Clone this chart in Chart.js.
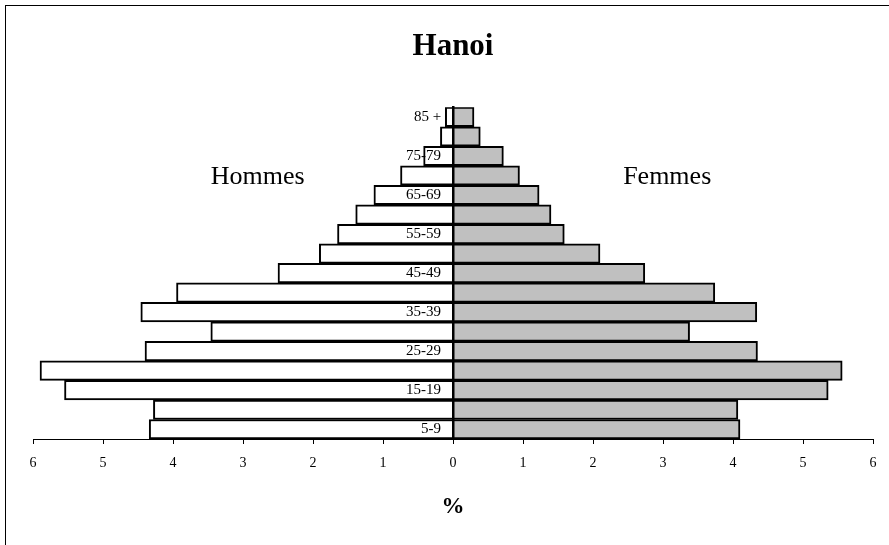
<!DOCTYPE html>
<html>
<head>
<meta charset="utf-8">
<script src="https://cdn.jsdelivr.net/npm/chart.js@4/dist/chart.umd.min.js"></script>
<style>
  html, body { margin: 0; padding: 0; background: #fff; overflow: hidden; }
  #wrap { position: relative; width: 889px; height: 545px; }
  #frame { position: absolute; left: 5px; top: 5px; width: 900px; height: 600px;
           border-left: 1px solid #000; border-top: 1px solid #000; pointer-events: none; }
  canvas { position: absolute; left: 0; top: 0; }
</style>
</head>
<body>
<div id="wrap">
  <canvas id="c" width="889" height="545"></canvas>
  <div id="frame"></div>
</div>
<script>
// Age groups, bottom to top
const ageGroups = ['5-9','10-14','15-19','20-24','25-29','30-34','35-39','40-44','45-49',
                   '50-54','55-59','60-64','65-69','70-74','75-79','80-84','85 +'];
// Labels shown on the axis (every other group)
const ageTickLabels = ['5-9','','15-19','','25-29','','35-39','','45-49',
                       '','55-59','','65-69','','75-79','','85 +'];
// Percent of population
const hommes = [4.34, 4.28, 5.55, 5.90, 4.40, 3.46, 4.46, 3.95, 2.50,
                1.91, 1.65, 1.39, 1.13, 0.75, 0.42, 0.18, 0.11];
const femmes = [4.10, 4.07, 5.36, 5.56, 4.35, 3.38, 4.34, 3.74, 2.74,
                2.10, 1.59, 1.40, 1.23, 0.95, 0.72, 0.39, 0.30];
const xTickValues = [-6,-5,-4,-3,-2,-1,0,1,2,3,4,5,6];

const titleText = 'Hanoi';
const axisTitle = '%';
const seriesNames = ['Hommes', 'Femmes'];

const FONT = "'Liberation Serif', 'Times New Roman', serif";

const sideLabels = {
  id: 'sideLabels',
  afterDatasetsDraw(chart) {
    const {ctx, scales: {x, y}} = chart;
    const yi = ageGroups.indexOf('70-74');
    ctx.save();
    ctx.font = '26px ' + FONT;
    ctx.fillStyle = '#000';
    ctx.textAlign = 'center';
    ctx.textBaseline = 'middle';
    ctx.fillText(seriesNames[0], x.getPixelForValue(-2.79), y.getPixelForValue(yi) + 2);
    ctx.fillText(seriesNames[1], x.getPixelForValue(3.06), y.getPixelForValue(yi) + 2);
    ctx.restore();
  }
};

new Chart(document.getElementById('c'), {
  type: 'bar',
  data: {
    labels: ageGroups,
    datasets: [
      { label: seriesNames[0], data: hommes.map(v => -v), backgroundColor: '#ffffff',
        borderColor: '#000', borderWidth: 2, borderSkipped: 'start', stack: 'p' },
      { label: seriesNames[1], data: femmes, backgroundColor: '#c0c0c0',
        borderColor: '#000', borderWidth: 2, borderSkipped: 'start', stack: 'p' }
    ]
  },
  options: {
    indexAxis: 'y',
    responsive: false,
    animation: false,
    devicePixelRatio: 1,
    datasets: { bar: { barPercentage: 1, categoryPercentage: 1 } },
    layout: { padding: { left: 33, right: 16, top: 0, bottom: 0 } },
    plugins: {
      legend: { display: false },
      tooltip: { enabled: false },
      title: {
        display: true, text: titleText, color: '#000',
        font: { family: FONT, size: 31, weight: 'bold' },
        padding: { top: 28, bottom: 42 }
      }
    },
    scales: {
      x: {
        type: 'linear', stacked: true, min: -6, max: 6,
        afterBuildTicks(scale) { scale.ticks = xTickValues.map(v => ({ value: v })); },
        afterFit(scale) { scale.height = 106; },
        ticks: {
          color: '#000', padding: 11, maxRotation: 0,
          font: { family: FONT, size: 14 },
          callback: v => String(Math.abs(v))
        },
        grid: { drawOnChartArea: false, drawTicks: true, tickLength: 5, color: '#000', tickWidth: 1 },
        border: { display: true, color: '#000', width: 1 },
        title: {
          display: true, text: axisTitle, color: '#000',
          font: { family: FONT, size: 23, weight: 'bold' },
          padding: { top: 0, bottom: 24 }
        }
      },
      y: {
        type: 'category', stacked: true, reverse: true,
        position: { x: 0 },
        ticks: { display: false },
        grid: { display: true, drawOnChartArea: false, drawTicks: false },
        border: { display: true, color: '#000', width: 2.5, z: 2 }
      },
      yLabels: {
        type: 'category', reverse: true,
        position: { x: -0.17 },
        ticks: {
          z: 2,
          color: '#000', padding: 0, autoSkip: false,
          font: { family: FONT, size: 15 },
          callback: (v, i) => ageTickLabels[i]
        },
        grid: { display: false },
        border: { display: false }
      }
    }
  },
  plugins: [sideLabels]
});
</script>
</body>
</html>
